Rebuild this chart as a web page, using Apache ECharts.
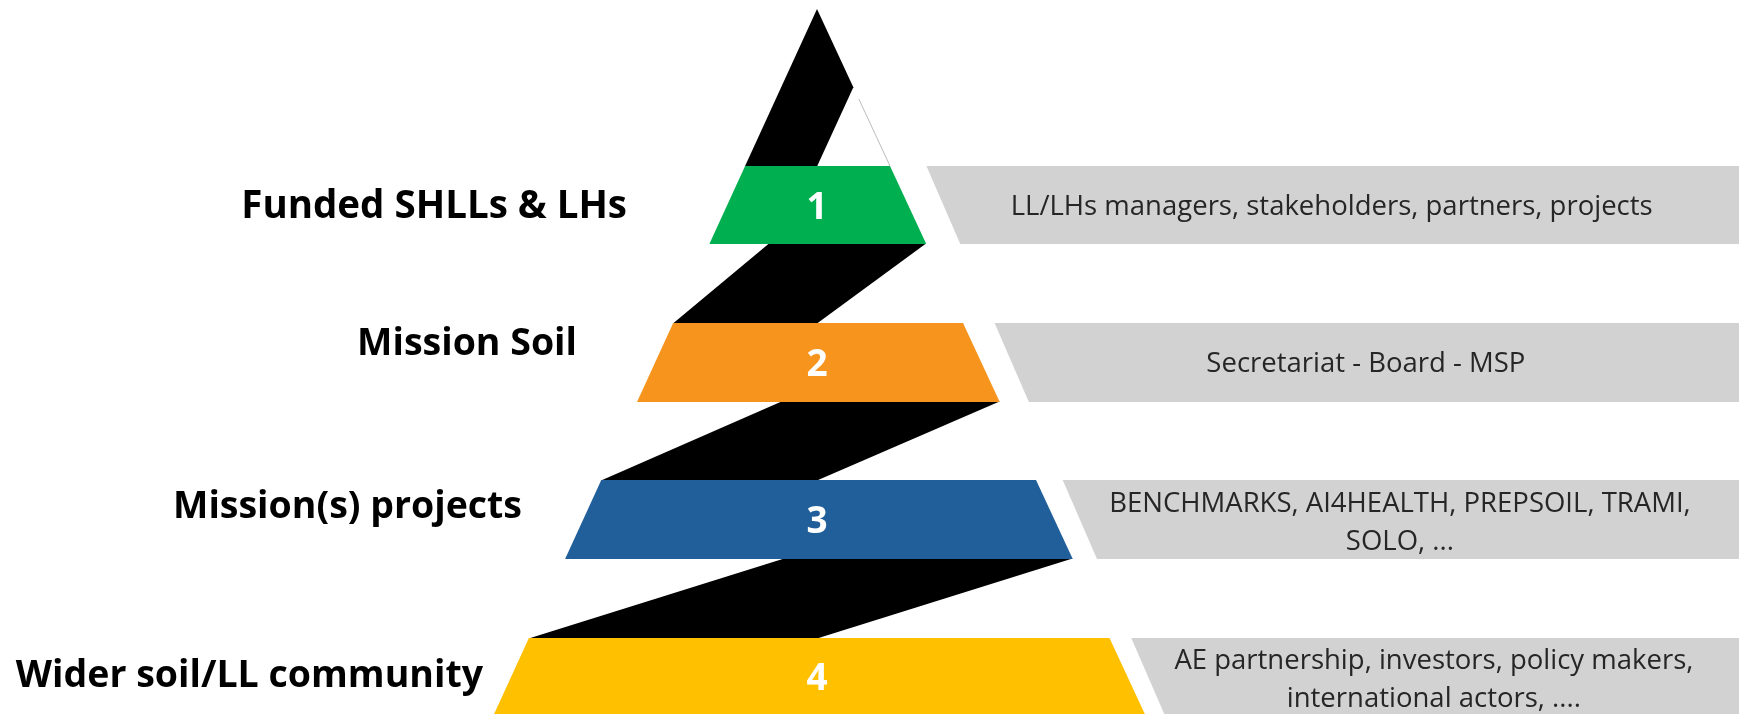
<!DOCTYPE html>
<html>
<head>
<meta charset="utf-8">
<script src="https://cdn.jsdelivr.net/npm/echarts/dist/echarts.min.js"></script>
<style>
html,body{margin:0;padding:0;background:#ffffff;}
#chart{width:1739px;height:714px;}
</style>
</head>
<body>
<div id="chart"></div>
<script>
// ---------------- DATA ----------------
const levelNumbers = ['1', '2', '3', '4'];
const levelNames = ['Funded SHLLs & LHs', 'Mission Soil', 'Mission(s) projects', 'Wider soil/LL community'];
const levelMembers = [
  'LL/LHs managers, stakeholders, partners, projects',
  'Secretariat - Board - MSP',
  'BENCHMARKS, AI4HEALTH, PREPSOIL, TRAMI,\nSOLO, ...',
  'AE partnership, investors, policy makers,\ninternational actors, ....'
];
// vertical extent of each level on the pyramid's depth axis
const levelStart = [166, 323, 480, 638];
const levelEnd = [244, 402, 559, 714];

// ---------------- LAYOUT / STYLE ----------------
const levelColors = ['#00B050', '#F7941D', '#215F9A', '#FFC000'];
const RIBBON_COLOR = '#000000';
const BOX_COLOR = '#D2D2D2';
const BOX_TEXT_COLOR = '#262626';
const FONT = '"Open Sans", "Noto Sans", sans-serif';

const CX = 817, APEX_Y = 9, LS = 0.458, RS = 0.465;
const leftX = y => CX - LS * (y - APEX_Y);
const rightX = y => CX + RS * (y - APEX_Y);
const BOX_X0 = 926, BOX_Y0 = 165, BOX_SLOPE = 0.434, BOX_RIGHT = 1739, BOX_TEXT_RIGHT = 1720;
const boxLeft = y => BOX_X0 + BOX_SLOPE * (y - BOX_Y0);
const labelRightX = [627, 577, 522, 483];
const labelMidY = [207, 344, 507, 676];
const ribbonExtraTop = [0, 13, 2, 0];   // extra width of each ribbon's upper edge
const OUTLINE_FROM_Y = 99;

const chart = echarts.init(document.getElementById('chart'), null, {renderer: 'canvas'});

const levelData = levelNumbers.map((n, i) => [i, levelStart[i], levelEnd[i]]);

function polygon(api, pts, fill) {
  return {type: 'polygon', shape: {points: pts.map(p => api.coord(p))}, style: {fill: fill}};
}

const option = {
  animation: false,
  backgroundColor: '#ffffff',
  grid: {left: 0, right: 0, top: 0, bottom: 0},
  xAxis: {type: 'value', min: 0, max: 1739, show: false},
  yAxis: {type: 'value', min: 0, max: 714, inverse: true, show: false},
  series: [
    {
      // black zig-zag ribbon
      type: 'custom', name: 'ribbon', clip: false, silent: true,
      data: levelData,
      renderItem: function (params, api) {
        const i = api.value(0);
        let pts;
        if (i === 0) {
          const yb = api.value(1) + 0.5;
          const yv = (LS * yb + RS * APEX_Y) / (LS + RS);
          pts = [[CX, APEX_Y], [rightX(yv), yv], [CX, yb], [leftX(yb), yb]];
        } else {
          const yt = levelEnd[i - 1] - 0.5;
          const yb = api.value(1) + 0.5;
          const w = CX - leftX(yb) + ribbonExtraTop[i];
          pts = [[rightX(yt) - w, yt], [rightX(yt), yt], [CX, yb], [leftX(yb), yb]];
        }
        return polygon(api, pts, RIBBON_COLOR);
      }
    },
    {
      // thin outline on the pyramid's right flank under the top ribbon
      type: 'custom', name: 'outline', clip: false, silent: true,
      data: [[0, levelStart[0]]],
      renderItem: function (params, api) {
        const yb = api.value(1);
        const p1 = api.coord([rightX(OUTLINE_FROM_Y), OUTLINE_FROM_Y]);
        const p2 = api.coord([rightX(yb), yb]);
        return {type: 'line', shape: {x1: p1[0], y1: p1[1], x2: p2[0], y2: p2[1]},
                style: {stroke: '#BDBDBD', lineWidth: 1}};
      }
    },
    {
      // coloured levels
      type: 'custom', name: 'levels', clip: false, silent: true,
      data: levelData,
      renderItem: function (params, api) {
        const i = api.value(0), yt = api.value(1), yb = api.value(2);
        const pts = [[leftX(yt), yt], [rightX(yt), yt], [rightX(yb), yb], [leftX(yb), yb]];
        const c = api.coord([CX, (yt + yb) / 2 + 3]);
        return {type: 'group', children: [
          polygon(api, pts, levelColors[i]),
          {type: 'text', x: c[0], y: c[1], style: {
            text: levelNumbers[i], fill: '#ffffff', fontFamily: FONT, fontWeight: 'bold',
            fontSize: 37, align: 'center', verticalAlign: 'middle'}}
        ]};
      }
    },
    {
      // grey member boxes
      type: 'custom', name: 'members', clip: false, silent: true,
      data: levelData,
      renderItem: function (params, api) {
        const i = api.value(0), yt = api.value(1), yb = api.value(2);
        const pts = [[boxLeft(yt), yt], [BOX_RIGHT, yt], [BOX_RIGHT, yb], [boxLeft(yb), yb]];
        const ym = (yt + yb) / 2;
        const multi = levelMembers[i].indexOf('\n') >= 0;
        const c = api.coord([(boxLeft(ym) + BOX_TEXT_RIGHT) / 2, ym + (multi ? 4 : 2)]);
        return {type: 'group', children: [
          polygon(api, pts, BOX_COLOR),
          {type: 'text', x: c[0], y: c[1], style: {
            text: levelMembers[i], fill: BOX_TEXT_COLOR, fontFamily: FONT,
            fontSize: 27.5, lineHeight: 38, align: 'center', verticalAlign: 'middle'}}
        ]};
      }
    },
    {
      // level names on the left
      type: 'custom', name: 'names', clip: false, silent: true,
      data: levelData,
      renderItem: function (params, api) {
        const i = api.value(0);
        const c = api.coord([labelRightX[i], labelMidY[i]]);
        return {type: 'text', x: c[0], y: c[1], style: {
          text: levelNames[i], fill: '#000000', fontFamily: FONT, fontWeight: 'bold',
          fontSize: i === 0 ? 38.5 : 37.5, align: 'right', verticalAlign: 'middle'}};
      }
    }
  ]
};
chart.setOption(option);
</script>
</body>
</html>
